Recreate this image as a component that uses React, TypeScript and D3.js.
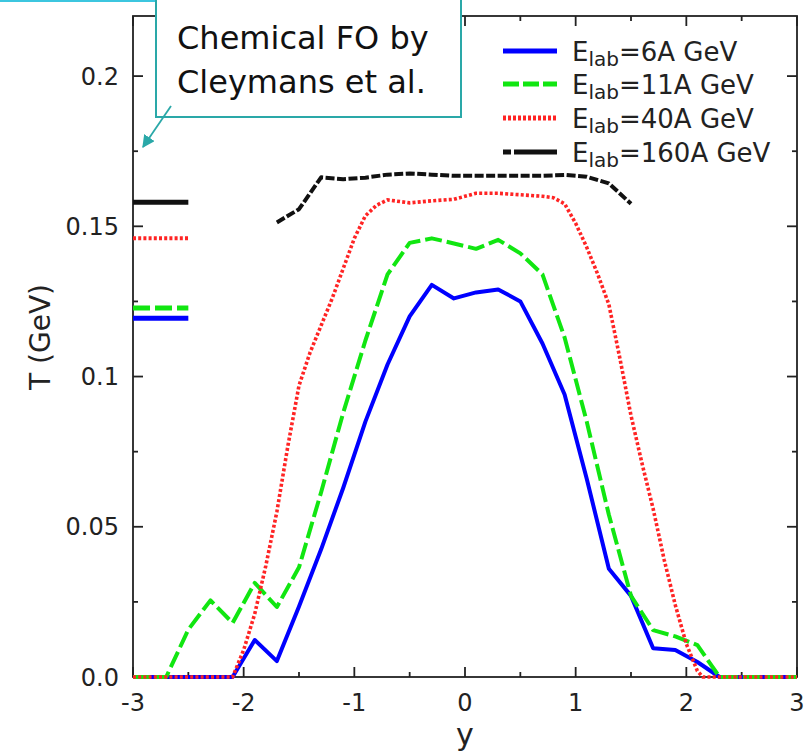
import React from 'react'
import * as d3 from 'd3'

// rapidity grid and temperature (GeV)
const blueX = [-3, -2.1, -1.9, -1.7, -1.5, -1.3, -1.1, -0.9, -0.7, -0.5, -0.3, -0.1, 0.1, 0.3, 0.5, 0.7, 0.9, 1.1, 1.3, 1.5, 1.7, 1.9, 2.1, 2.3, 3]
const blueT = [0, 0, 0.0123, 0.0053, 0.0235, 0.0425, 0.063, 0.085, 0.104, 0.12, 0.1305, 0.126, 0.128, 0.129, 0.125, 0.111, 0.094, 0.066, 0.036, 0.027, 0.0096, 0.009, 0.005, 0, 0]

const greenX = [-3, -2.7, -2.5, -2.3, -2.1, -1.9, -1.7, -1.5, -1.3, -1.1, -0.9, -0.7, -0.5, -0.3, -0.1, 0.1, 0.3, 0.5, 0.7, 0.9, 1.1, 1.3, 1.5, 1.7, 1.9, 2.1, 2.3, 3]
const greenT = [0, 0, 0.0158, 0.0255, 0.018, 0.0313, 0.0233, 0.0365, 0.0615, 0.088, 0.112, 0.134, 0.1445, 0.146, 0.1443, 0.1425, 0.1455, 0.141, 0.134, 0.113, 0.085, 0.054, 0.027, 0.0156, 0.0135, 0.0106, 0, 0]

const redX = [-3, -2.1, -2.0, -1.9, -1.8, -1.7, -1.6, -1.5, -1.4, -1.3, -1.2, -1.1, -1.0, -0.9, -0.8, -0.7, -0.5, -0.3, -0.1, 0.1, 0.3, 0.5, 0.7, 0.8, 0.9, 1.0, 1.1, 1.2, 1.3, 1.4, 1.5, 1.6, 1.7, 1.8, 1.9, 2.0, 2.1, 2.15, 3]
const redT = [0, 0, 0.009, 0.021, 0.037, 0.055, 0.077, 0.097, 0.108, 0.117, 0.126, 0.136, 0.146, 0.1535, 0.157, 0.1588, 0.1578, 0.1585, 0.159, 0.161, 0.161, 0.1605, 0.16, 0.1595, 0.1575, 0.151, 0.143, 0.134, 0.124, 0.106, 0.087, 0.071, 0.056, 0.039, 0.024, 0.011, 0.002, 0, 0]

const blackX = [-1.7, -1.5, -1.3, -1.1, -0.9, -0.7, -0.5, -0.3, -0.1, 0.1, 0.3, 0.5, 0.7, 0.9, 1.1, 1.3, 1.5]
const blackT = [0.1513, 0.1557, 0.1663, 0.1657, 0.1662, 0.1672, 0.1676, 0.1672, 0.1668, 0.1668, 0.1668, 0.1668, 0.1668, 0.1671, 0.1665, 0.1643, 0.1575]

// chemical freeze-out (Cleymans et al.) marks on the left
const foT = [0.1194, 0.1228, 0.146, 0.158]
const foRange = [-3, -2.5]

const legendNames = ['6A GeV', '11A GeV', '40A GeV', '160A GeV']

const xMajor = [-3, -2, -1, 0, 1, 2, 3]
const xMinor = [-2.5, -1.5, -0.5, 0.5, 1.5, 2.5]
const yMajor = [0, 0.05, 0.1, 0.15, 0.2]
const yLabels = ['0.0', '0.05', '0.1', '0.15', '0.2']
const yMinor = [0.025, 0.075, 0.125, 0.175]

const styles = [
    { color: '#0000ff', dash: 'none', width: 4, legendDash: 'none' },
    { color: '#11e611', dash: '17,5', width: 4, legendDash: '16,4' },
    { color: '#ff2424', dash: '3,2.2', width: 3.6, legendDash: '3,2' },
    { color: '#111111', dash: '9,2.5', width: 4, legendDash: '8,3,44,3' },
]

const App = () => {
    const left = 133, right = 797, top = 16, bottom = 677
    const x = d3.scaleLinear().domain([-3, 3]).range([left, right])
    const y = d3.scaleLinear().domain([0, 0.22]).range([bottom, top])

    const line = d3.line<[number, number]>()
        .x(d => x(d[0]))
        .y(d => y(d[1]))

    const series = [
        d3.zip(blueX, blueT),
        d3.zip(greenX, greenT),
        d3.zip(redX, redT),
        d3.zip(blackX, blackT),
    ] as [number, number][][]

    const font = '"DejaVu Sans", Verdana, sans-serif'
    const ink = '#222'
    const teal = '#2aa8a8'

    return (
        <svg width={811} height={754} style={{ position: 'absolute', left: 0, top: 0, background: '#fff' }}>
            <defs>
                <marker id="arr" viewBox="0 0 10 10" refX="9" refY="5" markerWidth="7" markerHeight="7" orient="auto">
                    <path d="M0,0 L10,5 L0,10 z" fill={teal} />
                </marker>
            </defs>

            {/* slide border bit */}
            <line x1={0} x2={157} y1={1} y2={1} stroke="#3cc6df" strokeWidth={2} />

            {/* frame */}
            <rect x={left} y={top} width={right - left} height={bottom - top} fill="none" stroke={ink} strokeWidth={1.8} />

            {xMajor.map(v => (
                <g key={'xM' + v}>
                    <line x1={x(v)} x2={x(v)} y1={bottom} y2={bottom - 10} stroke={ink} strokeWidth={1.8} />
                    <line x1={x(v)} x2={x(v)} y1={top} y2={top + 10} stroke={ink} strokeWidth={1.8} />
                    <text x={x(v)} y={711} textAnchor="middle" fontFamily={font} fontSize={24} fill={ink}>{v}</text>
                </g>
            ))}
            {xMinor.map(v => (
                <g key={'xm' + v}>
                    <line x1={x(v)} x2={x(v)} y1={bottom} y2={bottom - 5} stroke={ink} strokeWidth={1.8} />
                    <line x1={x(v)} x2={x(v)} y1={top} y2={top + 5} stroke={ink} strokeWidth={1.8} />
                </g>
            ))}
            {yMajor.map((v, i) => (
                <g key={'yM' + v}>
                    <line x1={left} x2={left + 10} y1={y(v)} y2={y(v)} stroke={ink} strokeWidth={1.8} />
                    <line x1={right} x2={right - 10} y1={y(v)} y2={y(v)} stroke={ink} strokeWidth={1.8} />
                    <text x={119} y={y(v)} dy="0.36em" textAnchor="end" fontFamily={font} fontSize={24} fill={ink}>{yLabels[i]}</text>
                </g>
            ))}
            {yMinor.map(v => (
                <g key={'ym' + v}>
                    <line x1={left} x2={left + 5} y1={y(v)} y2={y(v)} stroke={ink} strokeWidth={1.8} />
                    <line x1={right} x2={right - 5} y1={y(v)} y2={y(v)} stroke={ink} strokeWidth={1.8} />
                </g>
            ))}

            {/* curves */}
            {series.map((pts, i) => (
                <path key={'s' + i} d={line(pts) || ''} fill="none" stroke={styles[i].color}
                    strokeWidth={styles[i].width} strokeDasharray={styles[i].dash} strokeLinejoin="round" />
            ))}

            {/* chemical FO marks */}
            {foT.map((t, i) => (
                <line key={'fo' + i} x1={x(foRange[0])} x2={x(foRange[1])} y1={y(t)} y2={y(t)}
                    stroke={styles[i].color} strokeWidth={i === 2 ? 4 : 5} strokeDasharray={i === 3 ? 'none' : styles[i].dash} />
            ))}

            {/* callout */}
            <rect x={156} y={-10} width={305} height={127} fill="#fff" stroke={teal} strokeWidth={2} />
            <text x={177} y={49} fontFamily={font} fontSize={32} fill="#111">Chemical FO by</text>
            <text x={177} y={93} fontFamily={font} fontSize={32} fill="#111">Cleymans et al.</text>
            <line x1={171} y1={106} x2={143} y2={147} stroke={teal} strokeWidth={1.8} markerEnd="url(#arr)" />

            {/* legend */}
            {legendNames.map((name, i) => {
                const ly = [51, 84, 118, 152][i]
                return (
                    <g key={'lg' + i}>
                        <line x1={503} x2={557} y1={ly} y2={ly} stroke={styles[i].color} strokeWidth={5}
                            strokeDasharray={styles[i].legendDash} />
                        <text x={572} y={ly + 10} fontFamily={font} fontSize={26} fill={ink}>
                            E<tspan fontSize={20} dy={5}>lab</tspan><tspan dy={-5}>={name}</tspan>
                        </text>
                    </g>
                )
            })}

            {/* axis titles */}
            <text x={465} y={745} textAnchor="middle" fontFamily={font} fontSize={30} fill={ink}>y</text>
            <text transform="translate(50,337) rotate(-90)" textAnchor="middle" fontFamily={font} fontSize={28} fill={ink}>T (GeV)</text>
        </svg>
    )
}

export default App
